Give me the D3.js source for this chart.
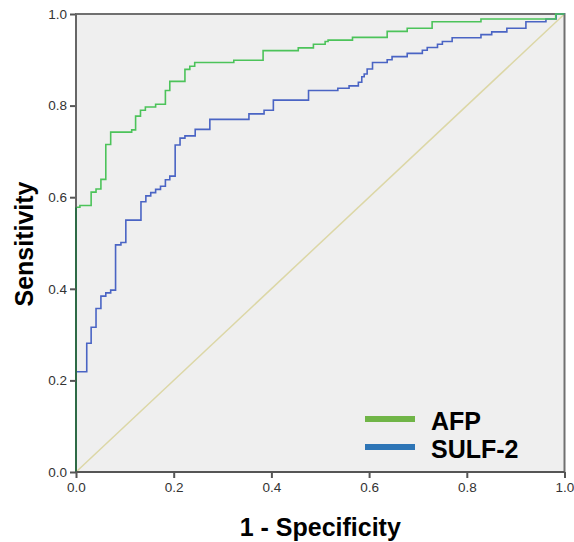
<!DOCTYPE html>
<html>
<head>
<meta charset="utf-8">
<style>
  body { margin: 0; background: #fff; }
  svg text { font-family: "Liberation Sans", Arial, sans-serif; }
</style>
</head>
<body>
<svg id="chart" width="574" height="542"></svg>
<script src="https://d3js.org/d3.v7.min.js"></script>
<script>
// ROC curve corner points: at each fpr the curve steps up to tpr
const afpFpr = [0, 0, 0.008, 0.031, 0.041, 0.051, 0.061, 0.071, 0.114, 0.122, 0.132, 0.142, 0.163, 0.183, 0.192,
  0.223, 0.233, 0.243, 0.323, 0.383, 0.455, 0.486, 0.510, 0.516, 0.566, 0.637, 0.678, 0.729, 0.829, 0.982, 1]
const afpTpr = [0, 0.578, 0.582, 0.611, 0.618, 0.639, 0.715, 0.742, 0.747, 0.777, 0.790, 0.797, 0.803, 0.833, 0.853,
  0.879, 0.886, 0.894, 0.899, 0.920, 0.926, 0.934, 0.940, 0.943, 0.949, 0.962, 0.969, 0.983, 0.989, 1, 1]

const sulfFpr = [0, 0, 0.022, 0.031, 0.041, 0.051, 0.061, 0.071, 0.081, 0.092, 0.102, 0.133, 0.143, 0.153, 0.163,
  0.173, 0.183, 0.192, 0.203, 0.213, 0.223, 0.244, 0.274, 0.354, 0.385, 0.404, 0.476, 0.536, 0.559, 0.578, 0.585,
  0.590, 0.596, 0.607, 0.637, 0.647, 0.678, 0.709, 0.719, 0.740, 0.750, 0.770, 0.829, 0.851, 0.882, 0.921, 0.962,
  0.983, 1]
const sulfTpr = [0, 0.219, 0.281, 0.316, 0.357, 0.384, 0.391, 0.397, 0.496, 0.501, 0.550, 0.590, 0.603, 0.610, 0.617,
  0.624, 0.638, 0.646, 0.714, 0.729, 0.734, 0.748, 0.770, 0.782, 0.790, 0.812, 0.833, 0.838, 0.843, 0.851, 0.863,
  0.869, 0.880, 0.894, 0.900, 0.907, 0.914, 0.921, 0.927, 0.934, 0.940, 0.948, 0.955, 0.961, 0.969, 0.983, 0.989,
  1, 1]

const ticks = [0, 0.2, 0.4, 0.6, 0.8, 1.0]
const seriesNames = ['AFP', 'SULF-2']
const lineColors = ['#4cc35a', '#4a64c4']
const legendColors = ['#70b547', '#2e75b6']

const margin = { left: 76, top: 14 }
const width = 488.5
const height = 458

const svg = d3.select('#chart')
const g = svg.append('g').attr('transform', `translate(${margin.left},${margin.top})`)

const x = d3.scaleLinear().domain([0, 1]).range([0, width])
const y = d3.scaleLinear().domain([0, 1]).range([height, 0])

// plot background
g.append('rect')
  .attr('width', width).attr('height', height)
  .attr('fill', '#efefef')

// reference diagonal
g.append('line')
  .attr('x1', x(0)).attr('y1', y(0))
  .attr('x2', x(1)).attr('y2', y(1))
  .attr('stroke', '#dcd7a6').attr('stroke-width', 1.5)

const line = d3.line()
  .x(d => x(d[0]))
  .y(d => y(d[1]))
  .curve(d3.curveStepAfter)

const series = [
  d3.zip(sulfFpr, sulfTpr),
  d3.zip(afpFpr, afpTpr)
]
const seriesColor = [lineColors[1], lineColors[0]]

// frame (top/right)
g.append('rect')
  .attr('width', width).attr('height', height)
  .attr('fill', 'none')
  .attr('stroke', '#707070').attr('stroke-width', 2)

g.selectAll('path.roc')
  .data(series)
  .join('path')
  .attr('class', 'roc')
  .attr('d', line)
  .attr('fill', 'none')
  .attr('stroke', (d, i) => seriesColor[i])
  .attr('stroke-width', 1.6)

// overlap of both curves on the left edge
g.append('line')
  .attr('x1', x(0)).attr('x2', x(0))
  .attr('y1', y(0)).attr('y2', y(afpTpr[1]))
  .attr('stroke', '#2d6a45').attr('stroke-width', 2)

const fmt = d3.format('.1f')
const xAxis = d3.axisBottom(x).tickValues(ticks).tickFormat(fmt).tickSize(6).tickPadding(4)
const yAxis = d3.axisLeft(y).tickValues(ticks).tickFormat(fmt).tickSize(6).tickPadding(3)

const xg = g.append('g').attr('transform', `translate(0,${height})`).call(xAxis)
const yg = g.append('g').call(yAxis)

;[xg, yg].forEach(a => {
  a.select('.domain').remove()
  a.selectAll('.tick line').attr('stroke', '#555').attr('stroke-width', 2)
  a.selectAll('.tick text')
    .attr('fill', '#333')
    .style('font-size', '13.5px')
    .style('font-family', '"Liberation Sans", Arial, sans-serif')
})

// bottom and left axis lines
g.append('line').attr('x1', 0).attr('x2', width).attr('y1', height).attr('y2', height)
  .attr('stroke', '#555').attr('stroke-width', 2)
g.append('line').attr('x1', 0).attr('x2', 0).attr('y1', 0).attr('y2', y(afpTpr[1]))
  .attr('stroke', '#666').attr('stroke-width', 2)

// axis titles
svg.append('text')
  .attr('x', margin.left + width / 2)
  .attr('y', 536)
  .attr('text-anchor', 'middle')
  .style('font-size', '25px').style('font-weight', 'bold')
  .text('1 - Specificity')

svg.append('text')
  .attr('transform', 'translate(33,244) rotate(-90)')
  .attr('text-anchor', 'middle')
  .style('font-size', '25px').style('font-weight', 'bold')
  .text('Sensitivity')

// legend
const legend = svg.append('g').attr('transform', 'translate(365,419)')
seriesNames.forEach((name, i) => {
  legend.append('line')
    .attr('x1', 0).attr('x2', 50)
    .attr('y1', i * 28).attr('y2', i * 28)
    .attr('stroke', legendColors[i]).attr('stroke-width', 6)
  legend.append('text')
    .attr('x', 66).attr('y', i * 28 + 4)
    .attr('dominant-baseline', 'middle')
    .style('font-size', '25px').style('font-weight', 'bold')
    .text(name)
})
</script>
</body>
</html>
